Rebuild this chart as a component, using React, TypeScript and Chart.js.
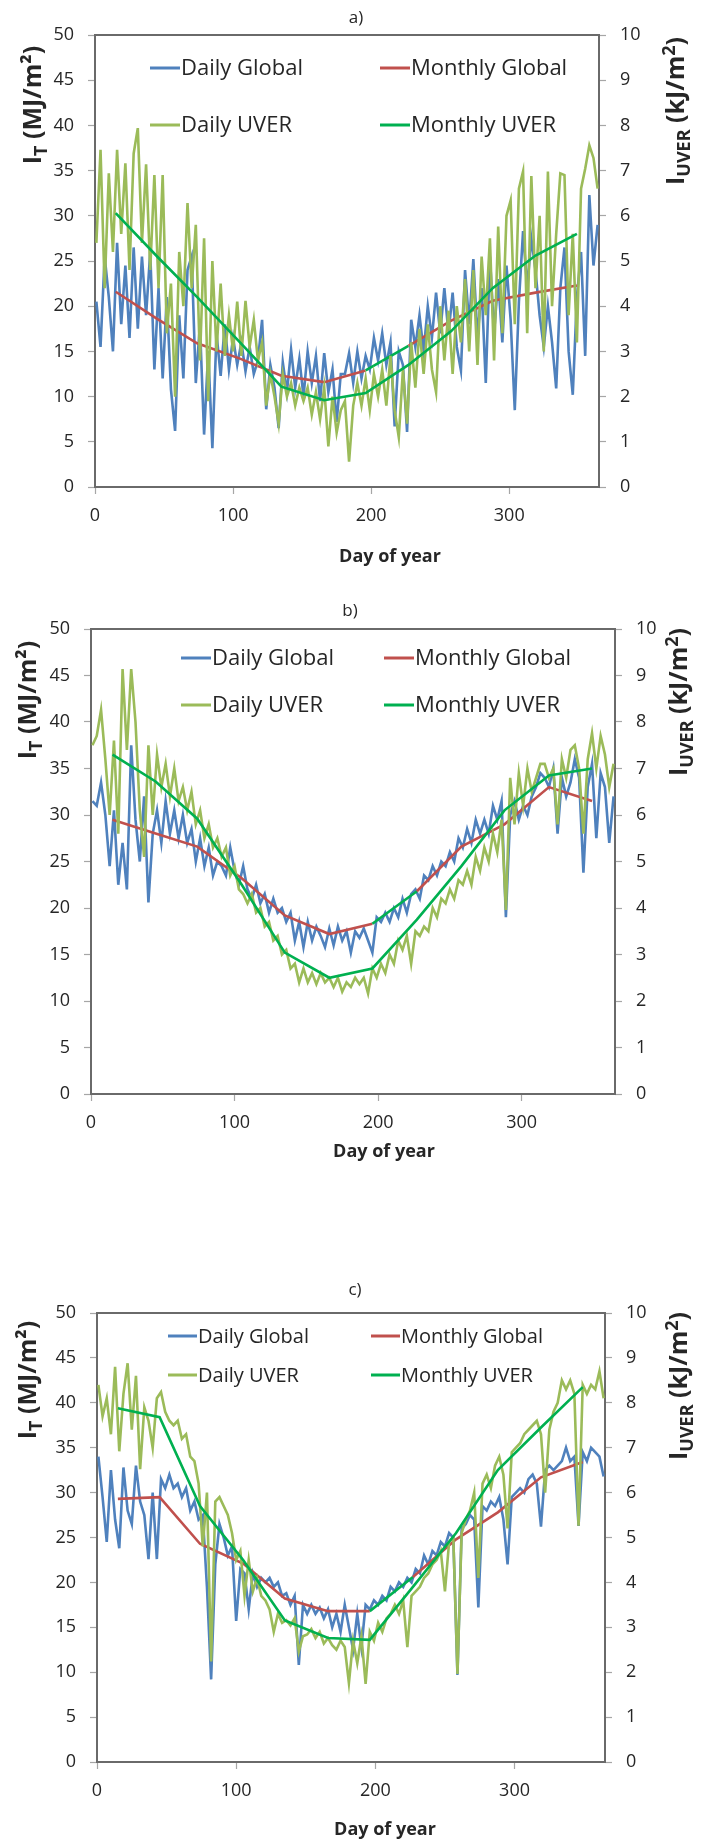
import { useEffect, useRef } from "react";
import { Chart, registerables } from "chart.js";

Chart.register(...registerables);

const FONT = "'Open Sans', Lato, sans-serif";
const TEXT = "#262626";
const C_DG = "#4F81BD";
const C_MG = "#C0504D";
const C_DU = "#9BBB59";
const C_MU = "#00B050";

// ---- categories / ticks ----
const DAYS = [1,4,7,10,13,16,19,22,25,28,31,34,37,40,43,46,49,52,55,58,61,64,67,70,73,76,79,82,85,88,91,94,97,100,103,106,109,112,115,118,121,124,127,130,133,136,139,142,145,148,151,154,157,160,163,166,169,172,175,178,181,184,187,190,193,196,199,202,205,208,211,214,217,220,223,226,229,232,235,238,241,244,247,250,253,256,259,262,265,268,271,274,277,280,283,286,289,292,295,298,301,304,307,310,313,316,319,322,325,328,331,334,337,340,343,346,349,352,355,358,361,364];
const MONTH_DAYS = [15,45,74,105,135,166,196,227,258,288,319,349];
const X_TICKS = [0,100,200,300];
const Y_LEFT_TICKS = [0,5,10,15,20,25,30,35,40,45,50];
const Y_RIGHT_TICKS = [0,1,2,3,4,5,6,7,8,9,10];
const LEGEND_LABELS = ["Daily Global","Monthly Global","Daily UVER","Monthly UVER"];
const PANEL_TITLES = ["a)","b)","c)"];
const X_TITLE = "Day of year";

// ---- panel a ----
const A_DAILY_GLOBAL = [20.5,15.5,25.5,21,15,27,18,24.5,16.5,26.5,17.5,25.5,19,26,13,22,12,21,10.8,6.2,19,12,24,25.5,11.5,18,5.8,15,4.3,17,12.3,18,13,16.5,13.5,16,12.8,15.5,12.5,14,18.5,8.6,13.5,11,6.5,13.8,10.5,15.2,11,14.2,10,15,11.5,14.5,9.5,14.8,10.5,13,7.2,12.5,12.5,14.8,11.5,15,12,14.5,13,16.5,14,17,13.5,16,6.7,15,13.5,6.1,18.5,15.5,19,15,20,16.5,21.5,17,22,17,21.5,15.5,12.9,24,18,25.2,16.5,22,11.5,25.5,17,23,16,24.5,18.5,8.5,20.5,28.3,22,27.5,24,19,15.5,20,16,10.9,22,26.5,15,10.2,21,26,14.5,32.3,24.5,29];
const A_DAILY_UVER = [5.4,7.46,4.4,6.94,5.2,7.46,5.6,7.16,4.8,7.38,7.94,5.4,7.14,4.8,6.9,4.4,6.9,3.4,4.5,2.0,5.2,4.0,6.28,4.4,5.8,2.8,5.5,1.9,5.0,3.0,4.5,2.9,3.8,3.0,4.1,2.9,4.12,3.1,3.7,2.8,3.2,1.8,2.5,2.0,1.4,2.5,2.0,2.3,1.8,2.2,1.9,2.2,1.6,2.1,1.5,2.2,0.9,2.0,1.2,1.7,1.9,0.56,1.8,2.3,1.8,2.4,1.7,2.5,2.0,2.6,1.8,2.9,1.7,1.1,2.6,1.4,3.2,2.2,3.5,2.5,3.6,2.6,2.1,4.0,2.8,3.9,2.5,4.0,3.2,4.6,3.0,4.8,2.7,5.1,3.8,5.5,2.8,5.76,3.4,6.0,6.34,3.6,6.6,6.98,3.4,6.88,4.4,6.0,3.0,6.98,4.0,5.6,6.94,6.9,3.8,5.6,3.2,6.6,7.04,7.56,7.28,6.6];
const A_MONTHLY_GLOBAL = [21.6,18.6,15.9,14.2,12.3,11.6,12.9,15.6,18.4,20.6,21.5,22.3];
const A_MONTHLY_UVER = [6.06,5.1,4.2,3.2,2.22,1.92,2.08,2.7,3.45,4.4,5.12,5.6];

// ---- panel b ----
const B_DAILY_GLOBAL = [31.5,31,33.5,30,24.5,30.5,22.5,27,22,37.5,29.5,25,32,20.6,28,30.5,27,31.5,28,30.5,27.5,30,27,28.5,25,27.5,24.5,26.5,23.5,25,24.5,23.5,26.5,24,22.5,24.5,22,21,22.5,20.5,21.5,19.5,21,19.5,20,18.5,19.5,16.5,18.5,15.8,18.5,16.5,18,17,15.8,17.8,16,18,16.5,17.5,15.2,17.5,16.8,17.8,16.5,15.2,19,18.5,19.5,18.5,20,19,21,19.5,21.5,22,21,23.5,23,24.5,23.5,25,24.5,26,25,27.5,26.5,28.5,27,29.5,28,29.5,28,31,29.5,31.5,19,30,31.5,29.5,31,30,32,33,34.5,34,33,35,28,34,32,33.5,36,34,23.8,33,35.5,27.5,34.5,33,27,32];
const B_DAILY_UVER = [7.5,7.7,8.26,7.2,6.0,7.6,5.6,9.14,7.4,9.14,8.0,6.1,5.1,7.5,6.0,7.3,6.6,7.1,6.4,7.0,6.3,6.6,6.1,6.5,5.8,6.1,5.5,5.8,5.3,5.5,5.1,5.3,4.7,4.9,4.4,4.3,4.1,4.3,3.9,4.0,3.6,3.7,3.3,3.4,3.0,3.1,2.7,2.8,2.4,2.7,2.4,2.6,2.36,2.6,2.4,2.5,2.3,2.5,2.2,2.4,2.3,2.5,2.36,2.5,2.16,2.7,2.5,2.8,2.6,3.0,2.8,3.3,3.1,3.4,2.8,3.5,3.4,3.6,3.5,4.0,3.8,4.2,4.1,4.4,4.2,4.6,4.5,4.8,4.5,5.1,4.8,5.3,5.0,5.6,5.2,5.9,3.96,6.8,5.8,6.9,6.2,7.0,6.5,6.8,7.1,7.1,6.8,7.0,5.8,7.2,6.8,7.4,7.5,7.0,5.6,7.2,7.76,7.0,7.7,7.3,6.6,7.1];
const B_MONTHLY_GLOBAL = [29.5,28.0,26.6,23.2,19.2,17.2,18.3,21.8,26.6,29.0,33.0,31.5];
const B_MONTHLY_UVER = [7.3,6.72,5.92,4.5,3.04,2.5,2.7,3.75,4.9,6.1,6.85,7.0];

// ---- panel c ----
const C_DAILY_GLOBAL = [34,29.5,24.5,32.5,27,23.8,32.8,28,26.5,33,29,27.5,22.6,30,22.6,31.5,30.5,32,30.5,31,29.5,30.5,28,29,27,27.5,19.5,9.2,22,26.5,25,23,24,15.7,21.5,21,17,21,19.5,20.5,20,20.5,19.5,20,18.5,18.8,17.5,18.5,10.8,17.5,16.5,17.5,16.5,17.2,16,17,15,16.5,14.5,17.5,15,12.5,16.5,12.8,17.5,17,18,17.5,18.5,18,19.5,19,20,19.5,20.5,20,21.5,21,23,22,23.5,23,24.5,24,25.5,25,9.7,26,26.5,27.5,27,17.2,28.5,28,29,28.5,29.5,27,22,29.5,30,30.5,30,31.5,32,31,26.2,32.5,33,32.5,33,33.5,35,33.5,34,26.3,34.5,33.5,35,34.5,34,31.8];
const C_DAILY_UVER = [8.4,7.7,8.1,7.3,8.8,6.92,8.2,8.88,7.4,8.6,6.52,7.9,7.6,7.0,8.1,8.24,7.8,7.6,7.5,7.6,7.2,7.3,6.8,6.7,6.2,4.8,6.0,2.24,5.8,5.9,5.7,5.5,5.1,4.5,4.7,3.7,4.5,3.8,4.1,3.7,3.6,3.4,2.9,3.3,3.1,3.16,3.04,3.2,2.46,2.8,2.84,2.96,2.76,2.9,2.64,2.76,2.6,2.5,2.7,2.56,1.76,2.7,2.2,2.8,1.74,2.9,2.7,3.1,2.9,3.2,3.3,3.5,3.3,3.6,2.56,3.7,3.8,3.9,4.1,4.2,4.4,4.5,4.7,3.8,4.9,5.0,1.96,5.1,5.4,5.6,6.0,4.1,6.2,6.4,6.1,6.6,6.8,6.4,5.2,6.9,7.0,7.1,7.3,7.4,7.5,7.6,7.3,6.0,7.4,7.8,8.0,8.5,8.3,8.5,8.2,5.26,8.4,8.2,8.4,8.3,8.7,8.1];
const C_MONTHLY_GLOBAL = [29.3,29.5,24.3,22.1,18.2,16.8,16.8,20.6,24.8,27.8,31.7,33.4];
const C_MONTHLY_UVER = [7.88,7.68,5.7,4.5,3.15,2.76,2.72,3.9,5.1,6.5,7.45,8.35];

type Panel = {
  title: string;
  top: number; height: number;
  L: number; R: number; T: number; B: number;
  titleX: number; titleY: number;
  xTitleX: number; xTitleY: number;
  leftX: number; leftCY: number;
  rightX: number; rightCY: number;
  legRows: number[]; legCols: number[]; legLine: number; legFont: number;
  dg: number[]; du: number[]; mg: number[]; mu: number[];
};

const PANELS: Panel[] = [
  {
    title: PANEL_TITLES[0], top: 0, height: 595,
    L: 95, R: 599, T: 35, B: 487,
    titleX: 356, titleY: 18, xTitleX: 390, xTitleY: 557,
    leftX: 32, leftCY: 105, rightX: 675, rightCY: 111,
    legRows: [68, 125], legCols: [150, 380], legLine: 30, legFont: 22,
    dg: A_DAILY_GLOBAL, du: A_DAILY_UVER, mg: A_MONTHLY_GLOBAL, mu: A_MONTHLY_UVER,
  },
  {
    title: PANEL_TITLES[1], top: 595, height: 600,
    L: 91, R: 615, T: 629, B: 1094,
    titleX: 350, titleY: 611, xTitleX: 384, xTitleY: 1152,
    leftX: 27, leftCY: 700, rightX: 678, rightCY: 702,
    legRows: [658, 705], legCols: [181, 384], legLine: 30, legFont: 22,
    dg: B_DAILY_GLOBAL, du: B_DAILY_UVER, mg: B_MONTHLY_GLOBAL, mu: B_MONTHLY_UVER,
  },
  {
    title: PANEL_TITLES[2], top: 1195, height: 645,
    L: 97, R: 605, T: 1313, B: 1762,
    titleX: 355, titleY: 1290, xTitleX: 385, xTitleY: 1830,
    leftX: 27, leftCY: 1380, rightX: 678, rightCY: 1386,
    legRows: [1336, 1375], legCols: [168, 371], legLine: 29, legFont: 20,
    dg: C_DAILY_GLOBAL, du: C_DAILY_UVER, mg: C_MONTHLY_GLOBAL, mu: C_MONTHLY_UVER,
  },
];

type Part = { t: string; k: "n" | "sub" | "sup" };
const LEFT_TITLE: Part[] = [{ t: "I", k: "n" }, { t: "T", k: "sub" }, { t: " (MJ/m²)", k: "n" }];
const RIGHT_TITLE: Part[] = [{ t: "I", k: "n" }, { t: "UVER", k: "sub" }, { t: " (kJ/m", k: "n" }, { t: "2", k: "sup" }, { t: ")", k: "n" }];

function drawRot(ctx: CanvasRenderingContext2D, cx: number, cy: number, parts: Part[], size: number) {
  ctx.save();
  ctx.translate(cx, cy);
  ctx.rotate(-Math.PI / 2);
  ctx.textAlign = "left";
  ctx.textBaseline = "alphabetic";
  const fontFor = (k: string) => `bold ${k === "n" ? size : Math.round(size * 0.72)}px ${FONT}`;
  let total = 0;
  for (const p of parts) { ctx.font = fontFor(p.k); total += ctx.measureText(p.t).width; }
  let x = -total / 2;
  const base = size * 0.36;
  for (const p of parts) {
    ctx.font = fontFor(p.k);
    const dy = p.k === "sub" ? size * 0.24 : p.k === "sup" ? -size * 0.36 : 0;
    ctx.fillText(p.t, x, base + dy);
    x += ctx.measureText(p.t).width;
  }
  ctx.restore();
}

function makeDecor(p: Panel) {
  return {
    id: "panelDecor",
    beforeDatasetsDraw(chart: any) {
      const { ctx, chartArea: a } = chart;
      ctx.save();
      ctx.strokeStyle = "#6a6a6a";
      ctx.lineWidth = 2;
      ctx.strokeRect(a.left, a.top, a.right - a.left, a.bottom - a.top);
      ctx.restore();
    },
    afterDraw(chart: any) {
      const ctx: CanvasRenderingContext2D = chart.ctx;
      const o = p.top;
      ctx.save();
      ctx.fillStyle = TEXT;
      ctx.textAlign = "center";
      ctx.textBaseline = "middle";
      ctx.font = `17px ${FONT}`;
      ctx.fillText(p.title, p.titleX, p.titleY - o);
      ctx.font = `bold 18px ${FONT}`;
      ctx.fillText(X_TITLE, p.xTitleX, p.xTitleY - o);
      drawRot(ctx, p.leftX, p.leftCY - o, LEFT_TITLE, 25);
      drawRot(ctx, p.rightX, p.rightCY - o, RIGHT_TITLE, 25);
      const colors = [C_DG, C_MG, C_DU, C_MU];
      ctx.font = `${p.legFont}px ${FONT}`;
      ctx.textAlign = "left";
      ctx.textBaseline = "middle";
      for (let i = 0; i < 4; i++) {
        const row = Math.floor(i / 2);
        const col = i % 2;
        const y = p.legRows[row] - o;
        const x0 = p.legCols[col];
        ctx.strokeStyle = colors[i];
        ctx.lineWidth = 3;
        ctx.beginPath();
        ctx.moveTo(x0, y);
        ctx.lineTo(x0 + p.legLine, y);
        ctx.stroke();
        ctx.fillStyle = TEXT;
        ctx.fillText(LEGEND_LABELS[i], x0 + p.legLine + 1, y + 1);
      }
      ctx.restore();
    },
  };
}

function PanelChart({ p }: { p: Panel }) {
  const ref = useRef<HTMLCanvasElement>(null);
  useEffect(() => {
    const W = 710;
    const H = p.height;
    const tickFont = { family: FONT, size: 18 };
    const gridCfg = { drawOnChartArea: false, drawTicks: true, tickLength: 7, tickColor: "#a6a6a6", tickWidth: 1.2 };
    const chart = new Chart(ref.current as HTMLCanvasElement, {
      type: "line",
      data: {
        datasets: [
          {
            label: LEGEND_LABELS[3], yAxisID: "y1", order: 0,
            data: MONTH_DAYS.map((d, i) => ({ x: d, y: p.mu[i] })),
            borderColor: C_MU, borderWidth: 2.6, pointRadius: 0, tension: 0,
          },
          {
            label: LEGEND_LABELS[2], yAxisID: "y1", order: 1,
            data: DAYS.map((d, i) => ({ x: d, y: p.du[i] })),
            borderColor: C_DU, borderWidth: 2.6, pointRadius: 0, tension: 0,
          },
          {
            label: LEGEND_LABELS[1], yAxisID: "y", order: 2,
            data: MONTH_DAYS.map((d, i) => ({ x: d, y: p.mg[i] })),
            borderColor: C_MG, borderWidth: 2.6, pointRadius: 0, tension: 0,
            segment: { borderColor: (c: any) => (c.p0DataIndex === 6 ? C_MU : undefined) },
          },
          {
            label: LEGEND_LABELS[0], yAxisID: "y", order: 3,
            data: DAYS.map((d, i) => ({ x: d, y: p.dg[i] })),
            borderColor: C_DG, borderWidth: 2.6, pointRadius: 0, tension: 0,
          },
        ] as any,
      },
      options: {
        animation: false,
        responsive: false,
        devicePixelRatio: 1,
        layout: { padding: { top: p.T - p.top, left: 0, right: 0, bottom: 0 } },
        plugins: { legend: { display: false }, tooltip: { enabled: false }, title: { display: false } },
        scales: {
          x: {
            type: "linear", min: 0, max: 365,
            afterBuildTicks: (s: any) => { s.ticks = X_TICKS.map((v) => ({ value: v })); },
            ticks: { font: tickFont, color: TEXT, padding: 11, maxRotation: 0, autoSkip: false },
            grid: gridCfg,
            border: { display: false },
            afterFit: (s: any) => { s.height = H - (p.B - p.top); s.paddingLeft = 0; s.paddingRight = 0; },
          },
          y: {
            type: "linear", position: "left", min: 0, max: 50,
            afterBuildTicks: (s: any) => { s.ticks = Y_LEFT_TICKS.map((v) => ({ value: v })); },
            ticks: { font: tickFont, color: TEXT, padding: 14, autoSkip: false },
            grid: gridCfg,
            border: { display: false },
            afterFit: (s: any) => { s.width = p.L; s.paddingTop = 0; s.paddingBottom = 0; },
          },
          y1: {
            type: "linear", position: "right", min: 0, max: 10,
            afterBuildTicks: (s: any) => { s.ticks = Y_RIGHT_TICKS.map((v) => ({ value: v })); },
            ticks: { font: tickFont, color: TEXT, padding: 14, autoSkip: false },
            grid: gridCfg,
            border: { display: false },
            afterFit: (s: any) => { s.width = W - p.R; s.paddingTop = 0; s.paddingBottom = 0; },
          },
        } as any,
      },
      plugins: [makeDecor(p)],
    } as any);
    return () => chart.destroy();
  }, [p]);
  return (
    <canvas
      ref={ref}
      width={710}
      height={p.height}
      style={{ position: "absolute", left: 0, top: p.top, width: 710, height: p.height }}
    />
  );
}

export default function App() {
  return (
    <div style={{ position: "absolute", left: 0, top: 0, width: 710, height: 1840, background: "#ffffff", overflow: "hidden" }}>
      {PANELS.map((p, i) => (
        <PanelChart key={i} p={p} />
      ))}
    </div>
  );
}
